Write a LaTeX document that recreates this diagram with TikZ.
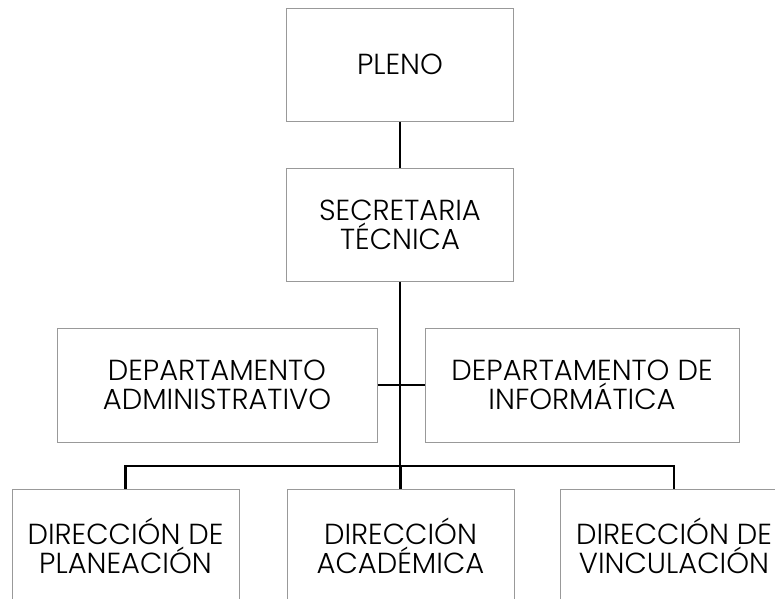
\documentclass[tikz,border=0pt]{standalone}
\usepackage{fontspec}
\setmainfont{Poppins Light}
\begin{document}
\begin{tikzpicture}[x=1pt,y=-1pt,
    caja/.style={draw=black!40, line width=1pt, align=center, inner sep=0pt,
      minimum width=227pt, minimum height=113pt, font=\fontsize{29}{29}\selectfont},
    conector/.style={line width=2.4pt}]
    \useasboundingbox (0,0) rectangle (775,598);
    \clip (0,0) rectangle (775,598);
    % Nivel superior
    \node[caja] (pleno) at (400,64.5) {PLENO};
    \node[caja] (secretaria) at (400,224.5) {SECRETARIA\\TÉCNICA};
    % Departamentos
    \node[caja, minimum width=320pt, minimum height=114pt] (depadmin) at (217,385) {DEPARTAMENTO\\ADMINISTRATIVO};
    \node[caja, minimum width=314pt, minimum height=114pt] (depinfo) at (582,385) {DEPARTAMENTO DE\\INFORMÁTICA};
    % Direcciones
    \node[caja] (dirplan) at (125.5,545.5) {DIRECCIÓN DE\\PLANEACIÓN};
    \node[caja] (diracad) at (400.5,545.5) {DIRECCIÓN\\ACADÉMICA};
    \node[caja] (dirvinc) at (674,545.5) {DIRECCIÓN DE\\VINCULACIÓN};
    % Conectores
    \coordinate (bus) at (400,466);
    \draw[conector] (pleno.south) -- (secretaria.north);
    \draw[conector] (secretaria.south) -- (bus);
    \draw[conector] (depadmin.east) -- (depinfo.west);
    \foreach \n in {dirplan,diracad,dirvinc}
      \draw[conector] (bus) -| (\n.north);
\end{tikzpicture}
\end{document}
